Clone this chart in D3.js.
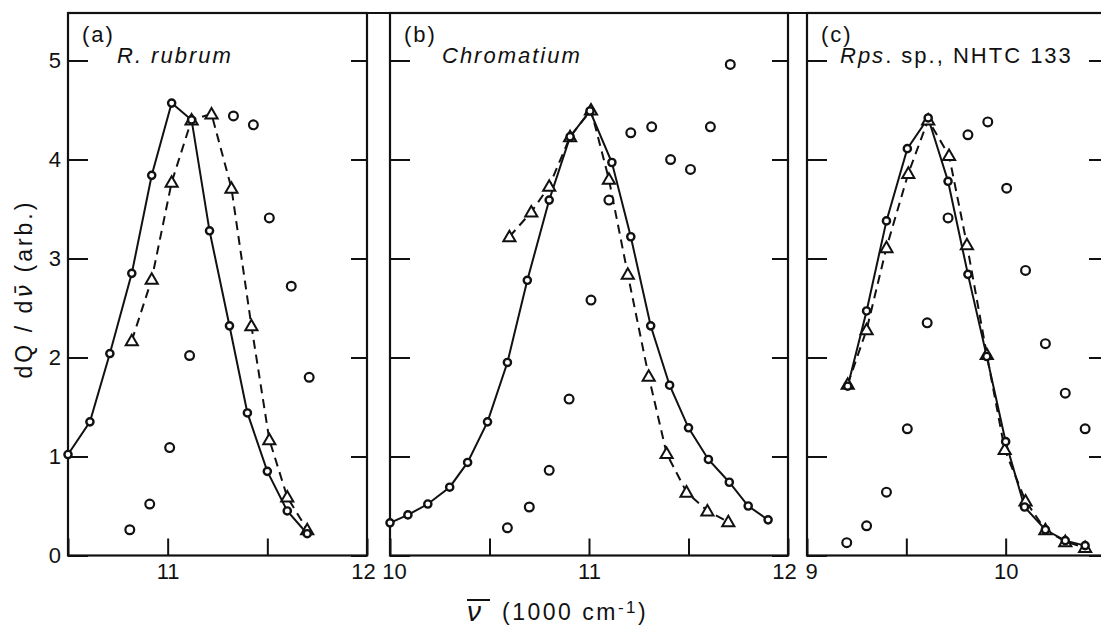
<!DOCTYPE html>
<html>
<head>
<meta charset="utf-8">
<script src="https://cdn.jsdelivr.net/npm/d3@7"></script>
<style>
  body { margin: 0; background: #fff; }
  svg { display: block; }
  text { font-family: "Liberation Sans", Arial, sans-serif; fill: #111; }
</style>
</head>
<body>
<div id="chart-container"></div>
<script>
// values (x in 1000 cm-1, y = dQ/dv, arbitrary units)

// (a) R. rubrum
const rubrumSolidX  = [10.5, 10.61, 10.71, 10.82, 10.92, 11.02, 11.12, 11.21, 11.31, 11.40, 11.50, 11.60, 11.70];
const rubrumSolidY  = [1.02, 1.35, 2.04, 2.85, 3.84, 4.57, 4.40, 3.28, 2.32, 1.44, 0.85, 0.45, 0.22];
const rubrumDashX   = [10.82, 10.92, 11.02, 11.12, 11.22, 11.32, 11.42, 11.51, 11.60, 11.70];
const rubrumDashY   = [2.17, 2.79, 3.77, 4.40, 4.46, 3.71, 2.32, 1.17, 0.59, 0.26];
const rubrumOpenX   = [10.81, 10.91, 11.01, 11.11, 11.33, 11.43, 11.51, 11.62, 11.71];
const rubrumOpenY   = [0.26, 0.52, 1.09, 2.02, 4.44, 4.35, 3.41, 2.72, 1.80];

// (b) Chromatium
const chromSolidX = [10.0, 10.09, 10.19, 10.30, 10.39, 10.49, 10.59, 10.69, 10.80, 10.905, 11.005, 11.115, 11.21, 11.31, 11.405, 11.50, 11.60, 11.705, 11.80, 11.90];
const chromSolidY = [0.33, 0.41, 0.52, 0.69, 0.94, 1.35, 1.95, 2.78, 3.59, 4.23, 4.49, 3.97, 3.22, 2.32, 1.72, 1.29, 0.97, 0.74, 0.50, 0.36];
const chromDashX  = [10.60, 10.71, 10.80, 10.905, 11.01, 11.10, 11.195, 11.30, 11.39, 11.49, 11.595, 11.70];
const chromDashY  = [3.22, 3.47, 3.73, 4.23, 4.50, 3.80, 2.84, 1.81, 1.03, 0.64, 0.45, 0.34];
const chromOpenX  = [10.59, 10.70, 10.80, 10.90, 11.01, 11.10, 11.21, 11.315, 11.41, 11.51, 11.61, 11.71];
const chromOpenY  = [0.28, 0.49, 0.86, 1.58, 2.58, 3.59, 4.27, 4.33, 4.00, 3.90, 4.33, 4.96];

// (c) Rps. sp., NHTC 133
const rpsSolidX = [9.205, 9.30, 9.40, 9.505, 9.61, 9.71, 9.81, 9.905, 10.0, 10.095, 10.20, 10.30, 10.40];
const rpsSolidY = [1.71, 2.47, 3.38, 4.11, 4.42, 3.78, 2.84, 2.01, 1.15, 0.49, 0.26, 0.15, 0.10];
const rpsDashX  = [9.205, 9.30, 9.40, 9.51, 9.61, 9.715, 9.805, 9.905, 9.995, 10.10, 10.20, 10.30, 10.40];
const rpsDashY  = [1.73, 2.28, 3.11, 3.86, 4.40, 4.04, 3.14, 2.03, 1.07, 0.55, 0.26, 0.14, 0.08];
const rpsOpenX  = [9.20, 9.30, 9.40, 9.505, 9.605, 9.71, 9.81, 9.91, 10.005, 10.10, 10.20, 10.30, 10.40];
const rpsOpenY  = [0.13, 0.30, 0.64, 1.28, 2.35, 3.41, 4.25, 4.38, 3.71, 2.88, 2.14, 1.64, 1.28];

// axis ticks
const yTicks = [0, 1, 2, 3, 4, 5];
const xTicksA = [10.5, 11, 11.5, 12];
const xTicksB = [10, 10.5, 11, 11.5, 12];
const xTicksC = [9, 9.5, 10, 10.5];

const zip = (xs, ys) => xs.map((v, i) => [v, ys[i]]);

const panels = [
  { tag: "(a)", name: "R. rubrum", domain: [10.5, 12], xTicks: xTicksA, left: 68, right: 367,
    solid: zip(rubrumSolidX, rubrumSolidY), dash: zip(rubrumDashX, rubrumDashY), open: zip(rubrumOpenX, rubrumOpenY) },
  { tag: "(b)", name: "Chromatium", domain: [10, 12], xTicks: xTicksB, left: 390, right: 788,
    solid: zip(chromSolidX, chromSolidY), dash: zip(chromDashX, chromDashY), open: zip(chromOpenX, chromOpenY) },
  { tag: "(c)", name: "Rps", domain: [9, 10.5], xTicks: xTicksC, left: 807, right: 1105,
    solid: zip(rpsSolidX, rpsSolidY), dash: zip(rpsDashX, rpsDashY), open: zip(rpsOpenX, rpsOpenY) }
];

const svgWidth = 1101, svgHeight = 633;
const frameTop = 13, frameBottom = 555.5;
const ink = "#111";

const svg = d3.select("#chart-container")
  .append("svg")
  .attr("width", svgWidth)
  .attr("height", svgHeight);

const y = d3.scaleLinear().domain([0, 5.48]).range([frameBottom, frameTop]);

const styleAxis = g => {
  g.select(".domain").remove();
  g.selectAll("line").attr("stroke", ink).attr("stroke-width", 2);
  g.attr("font-size", 22).attr("font-family", "'Liberation Sans', Arial, sans-serif");
  g.selectAll("text").attr("fill", ink);
};

panels.forEach((p, pi) => {
  const x = d3.scaleLinear().domain(p.domain).range([p.left, p.right]);
  const g = svg.append("g");

  // frame
  g.append("rect")
    .attr("x", p.left).attr("y", frameTop)
    .attr("width", p.right - p.left).attr("height", frameBottom - frameTop)
    .attr("fill", "none").attr("stroke", ink).attr("stroke-width", 2.2);

  // left ticks (labels only on first panel)
  g.append("g")
    .attr("transform", `translate(${p.left},0)`)
    .call(d3.axisLeft(y).tickValues(yTicks).tickSize(-20).tickSizeOuter(0).tickPadding(7)
      .tickFormat(pi === 0 ? d3.format("d") : ""))
    .call(styleAxis);

  // right ticks
  g.append("g")
    .attr("transform", `translate(${p.right},0)`)
    .call(d3.axisRight(y).tickValues(yTicks).tickSize(-16).tickSizeOuter(0).tickFormat(""))
    .call(styleAxis);

  // bottom ticks, integer labels only
  const bx = g.append("g")
    .attr("transform", `translate(0,${frameBottom})`)
    .call(d3.axisBottom(x).tickValues(p.xTicks).tickSize(-17).tickSizeOuter(0).tickPadding(8)
      .tickFormat(d => Number.isInteger(d) ? d : ""))
    .call(styleAxis);
  // edge labels sit a bit inside the frame
  bx.selectAll("text")
    .attr("dx", d => d === p.domain[0] ? 4 : d === p.domain[1] ? -4 : 0);

  // lines
  const line = d3.line().x(d => x(d[0])).y(d => y(d[1]));
  g.append("path").datum(p.solid)
    .attr("d", line).attr("fill", "none").attr("stroke", ink).attr("stroke-width", 2);
  g.append("path").datum(p.dash)
    .attr("d", line).attr("fill", "none").attr("stroke", ink).attr("stroke-width", 2)
    .attr("stroke-dasharray", "9,6");

  // markers
  g.selectAll(".tri").data(p.dash).join("path")
    .attr("class", "tri")
    .attr("d", d3.symbol(d3.symbolTriangle, 64))
    .attr("transform", d => `translate(${x(d[0])},${y(d[1]) + 1})`)
    .attr("fill", "#fff").attr("stroke", ink).attr("stroke-width", 2);
  g.selectAll(".sol").data(p.solid).join("circle")
    .attr("class", "sol")
    .attr("cx", d => x(d[0])).attr("cy", d => y(d[1])).attr("r", 3.6)
    .attr("fill", "#fff").attr("stroke", ink).attr("stroke-width", 2.4);
  g.selectAll(".opn").data(p.open).join("circle")
    .attr("class", "opn")
    .attr("cx", d => x(d[0])).attr("cy", d => y(d[1])).attr("r", 4.4)
    .attr("fill", "#fff").attr("stroke", ink).attr("stroke-width", 2.2);

  // panel labels
  g.append("text").text(p.tag)
    .attr("x", p.left + 14).attr("y", 42).attr("font-size", 22).attr("letter-spacing", 2);

  const t = g.append("text")
    .attr("x", p.left + (pi === 2 ? 33 : pi === 0 ? 49 : 52)).attr("y", 63)
    .attr("font-size", 22).attr("letter-spacing", 2);
  if (pi === 2) {
    t.append("tspan").attr("font-style", "italic").text("Rps");
    t.append("tspan").text(". sp., NHTC 133");
  } else {
    t.attr("font-style", "italic").text(p.name);
  }
});

// continuous top border
svg.append("line")
  .attr("x1", panels[0].left).attr("x2", svgWidth)
  .attr("y1", frameTop).attr("y2", frameTop)
  .attr("stroke", ink).attr("stroke-width", 2.2);

// y-axis title
const yt = svg.append("text")
  .attr("transform", "translate(32,289) rotate(-90)")
  .attr("text-anchor", "middle")
  .attr("font-size", 23)
  .attr("letter-spacing", 3);
yt.append("tspan").text("dQ / d");
yt.append("tspan").attr("font-family", "'DejaVu Sans', sans-serif").attr("font-style", "italic").text("\u03BD\u0304");
yt.append("tspan").text("  (arb.)");

// x-axis title
svg.append("text")
  .attr("x", 467).attr("y", 621)
  .attr("font-size", 28).attr("font-style", "italic")
  .attr("font-family", "'DejaVu Serif', serif")
  .text("\u03BD");
svg.append("line")
  .attr("x1", 467).attr("x2", 490).attr("y1", 600).attr("y2", 600)
  .attr("stroke", ink).attr("stroke-width", 2);
const xt = svg.append("text")
  .attr("x", 502).attr("y", 620)
  .attr("font-size", 23).attr("letter-spacing", 2.5);
xt.append("tspan").text("(1000 cm");
xt.append("tspan").attr("dy", -7).attr("font-size", 17).text("-1");
xt.append("tspan").attr("dy", 7).text(")");
</script>
</body>
</html>
